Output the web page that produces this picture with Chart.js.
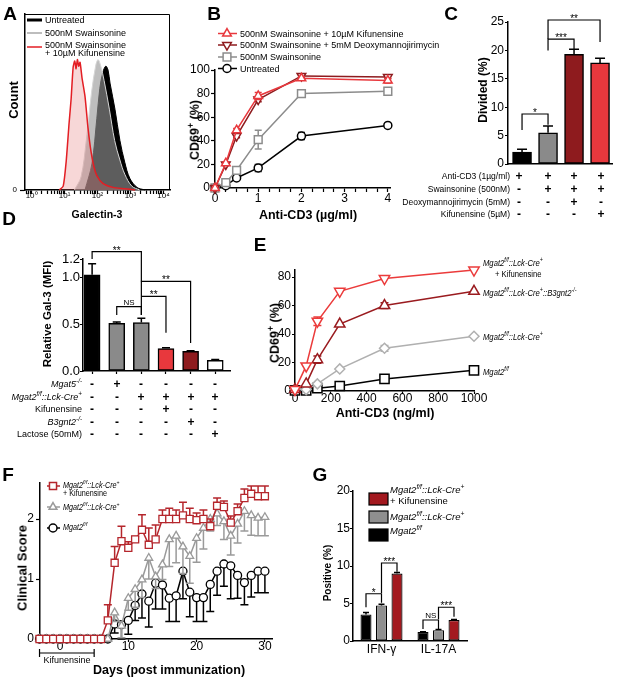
<!DOCTYPE html>
<html><head><meta charset="utf-8">
<script src="https://cdn.jsdelivr.net/npm/chart.js@4.4.1/dist/chart.umd.min.js"></script>
<style>
html,body{margin:0;padding:0;background:#fff;}
#wrap{position:relative;width:617px;height:681px;overflow:hidden;background:#fff;font-family:"Liberation Sans",Arial,Helvetica,sans-serif;color:#000;}
#wrap canvas{position:absolute;left:0;top:0;}
.t{position:absolute;white-space:nowrap;line-height:1;}
.t sup{font-size:70%;line-height:0;vertical-align:super;}
</style></head><body><div id="wrap"></div>
<script>
const W=617,H=681;
const FONT='"Liberation Sans", Arial, Helvetica, sans-serif';
const RED='#e8383d', DRED='#8e1b1e', GREY='#8a8a8a';

// ===== DATA =====
// A: Galectin-3 histograms (x = log10 intensity, y = % of max count)
const aUntreatedX=[1.62,1.83,1.98,2.07,2.16,2.25,2.32,2.38,2.53,2.68,2.83,2.98,3.2,3.44];
const aUntreatedY=[0,20,55,78,90,95,92,82,62,38,21,9,2,0];
const aSwainX=[1.3,1.5,1.66,1.82,1.95,2.02,2.1,2.2,2.36,2.52,2.68,2.83,3.04,3.28];
const aSwainY=[0,10,38,75,96,100,95,84,62,38,23,12,3,0];
const aKifX=[0.84,0.96,1.05,1.14,1.2,1.26,1.31,1.35,1.39,1.43,1.47,1.53,1.62,1.71,1.8,1.89,1.98,2.16,2.47,2.83,3.14];
const aKifY=[0,3,22,52,70,94,99,93,100,95,98,86,72,48,30,18,11,5,2,1,0];
const aDecades=[0,1,2,3,4];
const aDecadeLabels=['10⁰','10¹','10²','10³','10⁴'];

// B: CD69+ vs anti-CD3 (µg/ml)
const bDose=[0,0.25,0.5,1,2,4];
const bKif=[0,21,49,78,93,91], bKifErr=[0,1,1.5,3,1.5,2];
const bDmj=[0,20,44,75,95,94], bDmjErr=[0,1,1.5,2,1.5,1.5];
const bSwa=[0,4.5,15,41,80,82], bSwaErr=[0,1,2,8,3,1];
const bUnt=[0,2,8.5,17,44,53], bUntErr=[0,0.5,1,3,3,1];
const bXTicks=[0,0.25,0.5,0.75,1,1.25,1.5,1.75,2,2.25,2.5,2.75,3,3.25,3.5,3.75,4];
const bYTicks=[0,20,40,60,80,100];
const bLegend=['500nM Swainsonine + 10µM Kifunensine','500nM Swainsonine + 5mM Deoxymannojirimycin','500nM Swainsonine','Untreated'];

// C: Divided (%)
const cDivided=[2.1,5.5,19.3,17.8], cErr=[0.5,1.2,0.9,0.8];
const cYTicks=[0,5,10,15,20,25];
const cRowLabels=['Anti-CD3 (1µg/ml)','Swainsonine (500nM)','Deoxymannojirimycin (5mM)','Kifunensine (5µM)'];
const cSigns=[['+','+','+','+'],['-','+','+','+'],['-','-','+','-'],['-','-','-','+']];
const cSig=[{a:0,b:1,y:8.8,la:6.0,lb:6.9,t:'*'},{a:1,b:2,y:22.0,la:20.0,lb:20.1,t:'***'},{a:1,b:3,y:25.35,la:22.0,lb:21.5,t:'**'}];

// D: Relative Gal-3 (MFI)
const dMFI=[1.03,0.51,0.52,0.24,0.21,0.115], dErr=[0.12,0.015,0.045,0.008,0.006,0.008];
const dYTicks=[0,0.5,1.0,1.2];
const dRowLabels=['<i>Mgat5<sup>-/-</sup></i>','<i>Mgat2<sup>f/f</sup>::Lck-Cre<sup>+</sup></i>','Kifunensine','<i>B3gnt2<sup>-/-</sup></i>','Lactose (50mM)'];
const dSigns=[['-','+','-','-','-','-'],['-','-','+','+','+','+'],['-','-','-','+','-','-'],['-','-','-','-','+','-'],['-','-','-','-','-','+']];
const dSig=[{a:0,b:2,y:1.28,la:1.2,lb:0.96,t:'**'},{a:2,b:4,y:0.96,la:0.6,lb:0.30,t:'**'},{a:2,b:3,y:0.8,la:0.8,lb:0.41,t:'**'},{a:1,b:2,y:0.69,la:0.6,lb:0.6,t:'NS'}];

// E: CD69+ vs anti-CD3 (ng/ml)
const eDose=[0,62.5,125,250,500,1000];
const eKif=[1,17.6,49,70,79,85], eKifErr=[0,0,3,0,0,0];
const eB3=[1,5,22,47,60,70], eB3Err=[0,0,2.5,0,2,0];
const eCre=[1,1,5,15.5,30,38.5], eCreErr=[0,0,0,0,2,0];
const eWt=[0.5,0.5,2,3.5,8.5,14.5];
const eXTicks=[0,200,400,600,800,1000], eYTicks=[0,20,40,60,80];

// F: clinical score
const fDays=[-3,-2,-1,0,1,2,3,4,5,6,7,8,9,10,11,12,13,14,15,16,17,18,19,20,21,22,23,24,25,26,27,28,29,30];
const fKif=[0,0,0,0,0,0,0,0,0,0,0.31,1.27,1.63,1.52,1.66,1.82,1.57,1.66,2.0,2.0,2.0,2.06,2.0,1.98,2.0,1.88,2.22,2.2,1.94,2.13,2.35,2.42,2.38,2.38];
const fKifErr=[0,0,0,0,0,0,0,0,0,0,0.26,0.27,0.25,0.1,0.05,0.25,0.28,0.24,0.15,0.18,0.15,0.22,0.18,0.12,0.15,0.12,0.13,0.1,0.11,0.12,0.15,0.13,0.17,0.17];
const fCre=[0,0,0,0,0,0,0,0,0,0,0,0.44,0.22,0.68,0.83,0.99,1.35,1.04,1.24,1.66,1.72,1.54,1.38,1.68,1.85,2.0,2.09,1.96,1.72,1.92,2.13,2.06,2.02,2.03];
const fCreErr=[0,0,0,0,0,0,0,0,0,0,0,0.15,0.2,0.2,0.3,0.3,0.35,0.2,0.25,0.45,0.45,0.45,0.45,0.4,0.35,0.2,0.2,0.3,0.32,0.32,0.33,0.33,0.3,0.31];
const fWt=[0,0,0,0,0,0,0,0,0,0,0,0.25,0.24,0.31,0.56,0.75,0.63,0.93,0.9,0.68,0.72,1.13,0.78,0.69,0.69,0.91,1.13,1.25,1.22,1.06,0.94,1.06,1.13,1.13];
const fWtErr=[0,0,0,0,0,0,0,0,0,0,0,0.15,0.24,0.23,0.25,0.4,0.43,0.43,0.4,0.39,0.43,0.46,0.41,0.4,0.4,0.45,0.4,0.37,0.55,0.38,0.37,0.36,0.36,0.36];
const fXTicks=[0,10,20,30], fYTicks=[0,1,2];
const fKifWindow=[-3,5];

// G: Positive (%)
const gCats=['IFN-γ','IL-17A'];
const gWt=[3.55,1.2], gWtErr=[0.25,0.05];
const gCre=[4.75,1.45], gCreErr=[0.15,0.08];
const gKif=[9.0,2.8], gKifErr=[0.12,0.07];
const gYTicks=[0,5,10,15,20];
const gSig=[{a:[0,0],b:[1,0],y:6.3,la:4.5,lb:5.1,t:'*'},{a:[1,0],b:[2,0],y:10.4,la:6.4,lb:9.25,t:'***'},{a:[0,1],b:[1,1],y:2.8,la:1.6,lb:1.6,t:'NS'},{a:[1,1],b:[2,1],y:4.5,la:2.9,lb:3.25,t:'***'}];

// ===== HELPERS =====
Chart.defaults.font.family=FONT; Chart.defaults.color='#000';
const wrap=document.getElementById('wrap');
function cv(){const c=document.createElement('canvas');c.width=W;c.height=H;c.style.width=W+'px';c.style.height=H+'px';wrap.appendChild(c);return c;}
function fitX(b){return s=>{s.height=H-b;s.paddingLeft=s.paddingRight=s.paddingTop=s.paddingBottom=0;};}
function fitY(l){return s=>{s.width=l;s.paddingLeft=s.paddingRight=s.paddingTop=s.paddingBottom=0;};}
function axis(o){
  const a={type:o.type||'linear',offset:!!o.offset,
    border:{display:true,color:'#000',width:o.bw||1.5},
    grid:{display:true,offset:false,drawOnChartArea:false,drawTicks:o.tl!==0,tickLength:o.tl==null?4:o.tl,tickColor:'#000',tickWidth:o.tw||1.2,color:'rgba(0,0,0,0)'},
    ticks:{display:o.labels!==false,color:'#000',padding:o.pad==null?2:o.pad,autoSkip:false,maxRotation:0,minRotation:0,font:{family:FONT,size:o.size||12,lineHeight:1}},
    afterFit:o.fit};
  if(o.min!=null)a.min=o.min; if(o.max!=null)a.max=o.max;
  if(o.cb)a.ticks.callback=o.cb;
  if(o.ticks){const tv=o.ticks;a.afterBuildTicks=s=>{s.ticks=tv.map(v=>({value:v}));};}
  return a;
}
function opts(l,t,r,b,x,y){x.afterFit=fitX(b);y.afterFit=fitY(l);
  return {responsive:false,animation:false,devicePixelRatio:1,events:[],layout:{padding:{left:0,top:t,right:W-r,bottom:0}},
    plugins:{legend:{display:false},tooltip:{enabled:false}},scales:{x,y}};}
function xy(xs,ys){return xs.map((x,i)=>({x,y:ys[i]}));}
function errPlugin(spec){return {id:'errbars',beforeDatasetDraw(chart,args){const s=spec[args.index];if(!s)return;
  const ctx=chart.ctx,meta=chart.getDatasetMeta(args.index),ys=chart.scales[meta.yAxisID],data=chart.data.datasets[args.index].data;
  ctx.save();ctx.strokeStyle=s.color;ctx.lineWidth=s.lw||1.5;ctx.beginPath();
  meta.data.forEach((el,i)=>{const e=s.err[i];if(!e)return;const d=data[i];const v=(typeof d==='object')?d.y:d;const x=el.x;const y0=ys.getPixelForValue(v);
    const ends=[];if(s.dir!=='down')ends.push(v+e);if(s.dir!=='up')ends.push(v-e);
    ends.forEach(ev=>{const y1=ys.getPixelForValue(ev);ctx.moveTo(x,y0);ctx.lineTo(x,y1);ctx.moveTo(x-s.cap,y1);ctx.lineTo(x+s.cap,y1);});});
  ctx.stroke();ctx.restore();}};}
function pxOf(chart,ref){const r=Array.isArray(ref)?ref:[0,ref];return chart.getDatasetMeta(r[0]).data[r[1]].x;}
function brPlugin(list,o){return {id:'brackets',afterDatasetsDraw(chart){const ctx=chart.ctx,ys=chart.scales.y;ctx.save();
  ctx.strokeStyle='#000';ctx.fillStyle='#000';ctx.lineWidth=o.lw||1.2;ctx.textAlign='center';ctx.textBaseline='alphabetic';
  list.forEach(b=>{const xa=pxOf(chart,b.a),xb=pxOf(chart,b.b);const py=ys.getPixelForValue(b.y),pa=ys.getPixelForValue(b.la),pb=ys.getPixelForValue(b.lb);
    ctx.beginPath();ctx.moveTo(xa,pa);ctx.lineTo(xa,py);ctx.lineTo(xb,py);ctx.lineTo(xb,pb);ctx.stroke();
    const ns=b.t==='NS';ctx.font=(ns?o.ns:o.star)+'px '+FONT;ctx.fillText(b.t,(xa+xb)/2,ns?py-2:py+(o.off||2));});
  ctx.restore();}};}
function drawMarker(ctx,it){ctx.save();ctx.strokeStyle=it.color;ctx.fillStyle=it.fill||'#fff';ctx.lineWidth=it.bw||1.5;
  Chart.helpers.drawPoint(ctx,{pointStyle:it.style,rotation:it.rot||0,radius:it.r||4,borderWidth:it.bw||1.5},it.x,it.y);ctx.restore();}
function legPlugin(items){return {id:'legendglyphs',afterDraw(chart){const ctx=chart.ctx;ctx.save();
  items.forEach(it=>{
    if(it.line){ctx.strokeStyle=it.color;ctx.lineWidth=it.lw||1.5;ctx.beginPath();ctx.moveTo(it.line[0],it.y);ctx.lineTo(it.line[1],it.y);ctx.stroke();}
    if(it.style)drawMarker(ctx,it);
    if(it.rect){ctx.fillStyle=it.color;ctx.fillRect(it.rect[0],it.rect[1],it.rect[2],it.rect[3]);ctx.strokeStyle='#000';ctx.lineWidth=1.2;ctx.strokeRect(it.rect[0],it.rect[1],it.rect[2],it.rect[3]);}
  });ctx.restore();}};}
function T(x,y,html,o){o=o||{};const d=document.createElement('div');d.className='t';d.innerHTML=html;
  d.style.left=x+'px';d.style.top=y+'px';d.style.fontSize=(o.s||10)+'px';
  if(o.b)d.style.fontWeight='bold';if(o.i)d.style.fontStyle='italic';
  const a=o.a||'c';const tx=a==='l'?'0':a==='r'?'-100%':'-50%';
  d.style.transformOrigin=a==='l'?'left center':a==='r'?'right center':'center center';
  d.style.transform='translate('+tx+',-50%)'+(o.rot?' rotate(-90deg)':'')+(o.sx?' scaleX('+o.sx+')':'');
  wrap.appendChild(d);}
const num=v=>String(v);

// ===== PANEL A =====
(function(){
  const minor=[];for(let n=-1;n<=4;n++)for(let k=1;k<=9;k++){const v=n+Math.log10(k);if(v>=-0.2&&v<=4.2)minor.push(k===1?n:v);}
  const x=axis({min:-0.2,max:4.2,ticks:minor,tl:4,pad:-2,size:8,cb:v=>{const i=aDecades.indexOf(v);return i>=0?aDecadeLabels[i]:'';}});
  const y=axis({min:0,max:135,ticks:[0],tl:5,pad:3,size:8});
  const o=opts(25,14,170,190,x,y);
  new Chart(cv(),{type:'line',data:{datasets:[
    {data:xy(aUntreatedX,aUntreatedY),borderColor:'#000',backgroundColor:'#000',fill:'origin',borderWidth:1,pointRadius:0,tension:0.35,order:3,clip:false},
    {data:xy(aSwainX,aSwainY),borderColor:'#d6d6d6',backgroundColor:'rgba(150,150,150,0.62)',fill:'origin',borderWidth:1,pointRadius:0,tension:0.35,order:2,clip:false},
    {data:xy(aKifX,aKifY),borderColor:'#e31e24',backgroundColor:'rgba(225,110,110,0.28)',fill:'origin',borderWidth:1.5,pointRadius:0,tension:0.2,order:1,clip:false}
  ]},options:o,plugins:[legPlugin([
    {line:[27,42],y:20,color:'#000',lw:3},{line:[27,42],y:33,color:'#bdbdbd',lw:2},{line:[27,42],y:47,color:'#e31e24',lw:1.5}
  ]),{id:'box',afterDraw(c){const a=c.chartArea,ctx=c.ctx;ctx.save();ctx.strokeStyle='#000';ctx.lineWidth=1;ctx.beginPath();ctx.moveTo(a.left,a.top+0.5);ctx.lineTo(a.right-0.5,a.top+0.5);ctx.lineTo(a.right-0.5,a.bottom);ctx.stroke();ctx.restore();}}]});
})();

// ===== PANEL B =====
(function(){
  const x=axis({min:0,max:4.05,ticks:bXTicks,tl:4,pad:1,size:12,cb:v=>Number.isInteger(v)?String(v):''});
  const y=axis({min:0,max:100,ticks:bYTicks,tl:4,pad:1,size:12,cb:num});
  const o=opts(215,70,390,188,x,y);
  const ds=(d,c,st,r,rot)=>({data:xy(bDose,d),borderColor:c,borderWidth:1.5,pointStyle:st,pointRadius:r,pointRotation:rot||0,pointBorderColor:c,pointBackgroundColor:'#fff',pointBorderWidth:1.5,tension:0,clip:false});
  new Chart(cv(),{type:'line',data:{datasets:[ds(bKif,RED,'triangle',5),ds(bDmj,DRED,'triangle',5,180),ds(bSwa,'#8c8c8c','rect',5.5),ds(bUnt,'#000','circle',4)]},options:o,
    plugins:[errPlugin({0:{err:bKifErr,dir:'both',cap:3.5,color:RED},1:{err:bDmjErr,dir:'both',cap:3.5,color:DRED},2:{err:bSwaErr,dir:'both',cap:3.5,color:'#8c8c8c'},3:{err:bUntErr,dir:'both',cap:3.5,color:'#000'}}),
      legPlugin([{line:[218,237],y:33.5,color:RED,style:'triangle',x:227,r:5},{line:[218,237],y:45,color:DRED,style:'triangle',rot:180,x:227,r:5},{line:[218,237],y:57,color:'#8c8c8c',style:'rect',x:227,r:5.5},{line:[218,237],y:68.5,color:'#000',style:'circle',x:227,r:4}])]});
})();

// ===== PANEL C =====
(function(){
  const x=axis({min:-0.54,max:3.46,labels:false,tl:0});
  const y=axis({min:0,max:25,ticks:cYTicks,tl:3,pad:1,size:12,cb:num});
  const o=opts(508,22,612,164,x,y);
  new Chart(cv(),{type:'bar',data:{datasets:[{data:xy([0,1,2,3],cDivided),backgroundColor:['#000',GREY,DRED,RED],borderColor:'#000',borderWidth:1.5,borderSkipped:false,barThickness:19,clip:false}]},options:o,
    plugins:[errPlugin({0:{err:cErr,dir:'up',cap:5,color:'#000'}}),brPlugin(cSig,{star:10,ns:8})]});
})();

// ===== PANEL D =====
(function(){
  const x=axis({min:-0.37,max:5.6,ticks:[0,1,2,3,4,5],labels:false,tl:3});
  const y=axis({min:0,max:1.2,ticks:dYTicks,tl:3,pad:0,size:13,cb:v=>v.toFixed(1)});
  const o=opts(83,259,230,371,x,y);
  new Chart(cv(),{type:'bar',data:{datasets:[{data:xy([0,1,2,3,4,5],dMFI),backgroundColor:['#000',GREY,GREY,RED,DRED,'#fff'],borderColor:'#000',borderWidth:1.5,borderSkipped:false,barThickness:16,clip:false}]},options:o,
    plugins:[errPlugin({0:{err:dErr,dir:'up',cap:4,color:'#000'}}),brPlugin(dSig,{star:10,ns:8})]});
})();

// ===== PANEL E =====
(function(){
  const x=axis({min:0,max:1000,ticks:eXTicks,tl:3,pad:-1,size:12,cb:num});
  const y=axis({min:0,max:85,ticks:eYTicks,tl:3,pad:1,size:12,cb:num});
  const o=opts(295,270,474,391,x,y);
  const ds=(d,c,st,r,rot)=>({data:xy(eDose,d),borderColor:c,borderWidth:1.5,pointStyle:st,pointRadius:r,pointRotation:rot||0,pointBorderColor:c,pointBackgroundColor:'#fff',pointBorderWidth:1.5,tension:0,clip:false});
  new Chart(cv(),{type:'line',data:{datasets:[ds(eKif,'#eb3b3b','triangle',6,180),ds(eB3,'#9a1b1f','triangle',6),ds(eCre,'#b0b0b0','rectRot',5),ds(eWt,'#000','rect',6.5)]},options:o,
    plugins:[errPlugin({0:{err:eKifErr,dir:'both',cap:4,color:'#eb3b3b'},1:{err:eB3Err,dir:'both',cap:4,color:'#9a1b1f'},2:{err:eCreErr,dir:'both',cap:4,color:'#b0b0b0'}})]});
})();

// ===== PANEL F =====
(function(){
  const x=axis({min:-2.93,max:31.04,ticks:fXTicks,tl:3,pad:-1,size:12,cb:num});
  const y=axis({min:0,max:2.6,ticks:fYTicks,tl:4,pad:2,size:12,cb:num});
  const o=opts(40,483,272,639,x,y);
  const ds=(d,c,st,r)=>({data:xy(fDays,d),borderColor:c,borderWidth:1.5,pointStyle:st,pointRadius:r,pointBorderColor:c,pointBackgroundColor:'#fff',pointBorderWidth:1.3,tension:0,clip:false});
  new Chart(cv(),{type:'line',data:{datasets:[ds(fKif,'#b5262c','rect',5),ds(fCre,'#9a9a9a','triangle',4.5),ds(fWt,'#000','circle',4)]},options:o,
    plugins:[errPlugin({0:{err:fKifErr,dir:'up',cap:4,color:'#b5262c'},1:{err:fCreErr,dir:'down',cap:4,color:'#9a9a9a'},2:{err:fWtErr,dir:'down',cap:4,color:'#000'}}),
      legPlugin([{line:[47,60],y:486,color:'#b5262c',style:'rect',x:53,r:5},{line:[47,60],y:507,color:'#9a9a9a',style:'triangle',x:53,r:4.5},{line:[47,60],y:528,color:'#000',style:'circle',x:53,r:4}]),
      {id:'kifwin',afterDraw(c){const ctx=c.ctx,xs=c.scales.x;const a=xs.getPixelForValue(fKifWindow[0]),b=xs.getPixelForValue(fKifWindow[1]);ctx.save();ctx.strokeStyle='#000';ctx.lineWidth=1.2;ctx.beginPath();ctx.moveTo(a,653);ctx.lineTo(b,653);ctx.moveTo(a,649);ctx.lineTo(a,657);ctx.moveTo(b,649);ctx.lineTo(b,657);ctx.stroke();ctx.restore();}}]});
})();

// ===== PANEL G =====
(function(){
  const x=axis({type:'category',offset:true,tl:0,pad:3,size:12});
  const y=axis({min:0,max:20,ticks:gYTicks,tl:3,pad:0,size:12,cb:num});
  const o=opts(353,491,467,641,x,y);
  const ds=(d,c)=>({data:d,backgroundColor:c,borderColor:'#000',borderWidth:1.2,borderSkipped:false,categoryPercentage:0.816,barPercentage:0.71,clip:false});
  new Chart(cv(),{type:'bar',data:{labels:gCats,datasets:[ds(gWt,'#000'),ds(gCre,'#8f8f8f'),ds(gKif,'#a3191f')]},options:o,
    plugins:[errPlugin({0:{err:gWtErr,dir:'up',cap:3,color:'#000'},1:{err:gCreErr,dir:'up',cap:3,color:'#000'},2:{err:gKifErr,dir:'up',cap:3,color:'#000'}}),brPlugin(gSig,{star:10,ns:8}),
      legPlugin([{rect:[369,493,19,12],color:'#a3191f'},{rect:[369,511,19,12],color:'#8f8f8f'},{rect:[369,529,19,12],color:'#000'}])]});
})();

// ===== TEXT =====
const MG='Mgat2<sup>f/f</sup>::Lck-Cre<sup>+</sup>';
[['A',10,13],['B',214,13],['C',451,13],['D',9,218],['E',260,244],['F',8,474],['G',320,474]].forEach(p=>T(p[1],p[2],p[0],{s:19,b:true}));
// A
T(45,20,'Untreated',{s:9,a:'l'});T(45,33,'500nM Swainsonine',{s:9,a:'l'});T(45,45,'500nM Swainsonine',{s:9,a:'l'});T(45,53,'+ 10µM Kifunensine',{s:9,a:'l'});
T(13,100,'Count',{s:13,b:true,rot:true});T(97,214,'Galectin-3',{s:10.5,b:true});
// B
[33.5,45,57,68.5].forEach((yy,i)=>T(240,yy,bLegend[i],{s:9,a:'l'}));
T(195,130,'CD69<sup>+</sup> (%)',{s:12.5,b:true,rot:true});T(308,215,'Anti-CD3 (µg/ml)',{s:12.5,b:true});
// C
T(483,90,'Divided (%)',{s:12,b:true,rot:true});
const cRowY=[176,189,202,214],cColX=[519,548,574,601];
cRowLabels.forEach((l,i)=>{T(510,cRowY[i],l,{s:8.5,a:'r'});cSigns[i].forEach((s,j)=>T(cColX[j],cRowY[i],s,{s:12,b:true}));});
// D
T(48,314,'Relative Gal-3 (MFI)',{s:11.5,b:true,rot:true});
const dRowY=[384,397,409,422,434],dColX=[92,117,141,166,191,215];
dRowLabels.forEach((l,i)=>{T(82,dRowY[i],l,{s:9,a:'r'});dSigns[i].forEach((s,j)=>T(dColX[j],dRowY[i],s,{s:12,b:true}));});
// E
T(275,333,'CD69<sup>+</sup> (%)',{s:12.5,b:true,rot:true});T(385,413,'Anti-CD3 (ng/ml)',{s:12.5,b:true});
T(483,263,MG,{s:9,i:true,a:'l',sx:0.85});T(495,274,'+ Kifunensine',{s:9,a:'l',sx:0.85});
T(483,293,MG+'::B3gnt2<sup>-/-</sup>',{s:9,i:true,a:'l',sx:0.85});T(483,337,MG,{s:9,i:true,a:'l',sx:0.85});T(483,372,'Mgat2<sup>f/f</sup>',{s:9,i:true,a:'l',sx:0.85});
// F
T(63,485,MG,{s:8.5,i:true,a:'l',sx:0.85});T(63,493,'+ Kifunensine',{s:8.5,a:'l',sx:0.85});T(63,507,MG,{s:8.5,i:true,a:'l',sx:0.85});T(63,527,'Mgat2<sup>f/f</sup>',{s:8.5,i:true,a:'l',sx:0.85});
T(22,568,'Clinical Score',{s:13,b:true,rot:true});T(169,670,'Days (post immunization)',{s:12.5,b:true});T(67,660,'Kifunensine',{s:9});
// G
T(328,573,'Positive (%)',{s:10,b:true,rot:true});
T(390,490,MG,{s:9.5,i:true,a:'l'});T(390,501,'+ Kifunensine',{s:9.5,a:'l'});T(390,517,MG,{s:9.5,i:true,a:'l'});T(390,531,'Mgat2<sup>f/f</sup>',{s:9.5,i:true,a:'l'});
</script></body></html>
